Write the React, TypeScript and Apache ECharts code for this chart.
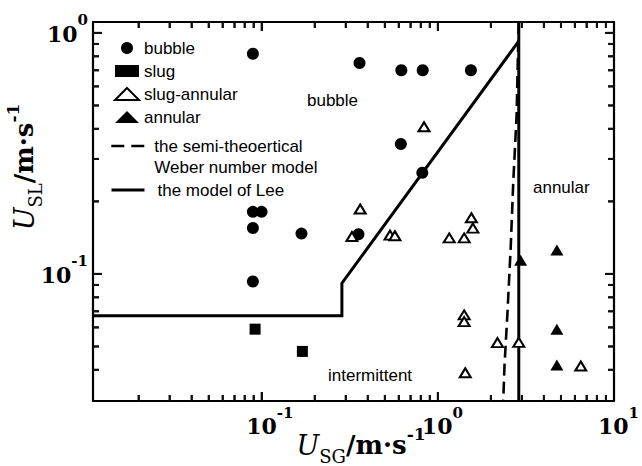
import React, { useEffect, useRef } from "react";
import * as echarts from "echarts";

// Observed flow patterns: [U_SG (m/s), U_SL (m/s)]
const bubblePoints: number[][] = [
  [0.089, 0.82],
  [0.359, 0.75],
  [0.62, 0.7],
  [0.82, 0.7],
  [1.54, 0.7],
  [0.616, 0.346],
  [0.816, 0.263],
  [0.089, 0.181],
  [0.0997, 0.181],
  [0.089, 0.155],
  [0.168, 0.147],
  [0.354, 0.146],
  [0.089, 0.093],
];

const slugPoints: number[][] = [
  [0.0916, 0.059],
  [0.17, 0.0477],
];

const slugAnnularPoints: number[][] = [
  [0.834, 0.408],
  [0.362, 0.186],
  [0.325, 0.143],
  [0.535, 0.145],
  [0.57, 0.144],
  [1.16, 0.141],
  [1.41, 0.141],
  [1.55, 0.171],
  [1.58, 0.155],
  [1.41, 0.0676],
  [1.41, 0.0634],
  [2.18, 0.0519],
  [2.88, 0.052],
  [6.48, 0.0415],
  [1.43, 0.0389],
];

const annularPoints: number[][] = [
  [4.74, 0.1258],
  [2.95, 0.114],
  [4.74, 0.059],
  [4.74, 0.0419],
];

// Transition boundaries
const weberModelLine: number[][] = [
  [2.88, 1.11],
  [2.86, 0.93],
  [2.8, 0.457],
  [2.68, 0.241],
  [2.59, 0.128],
  [2.48, 0.0676],
  [2.39, 0.0418],
  [2.35, 0.0297],
];

const leeModelLine: number[][] = [
  [0.011, 0.067],
  [0.285, 0.067],
  [0.285, 0.0915],
  [2.88, 0.925],
  [2.88, 1.11],
  [2.88, 0.0297],
];

// Axes
const xRange = [0.011, 10];
const yRange = [0.0297, 1.11];
const xMajorTicks = [0.1, 1];
const xMinorTicks = [
  0.02, 0.03, 0.04, 0.05, 0.06, 0.07, 0.08, 0.09,
  0.2, 0.3, 0.4, 0.5, 0.6, 0.7, 0.8, 0.9,
  2, 3, 4, 5, 6, 7, 8, 9,
];
const yMajorTicks = [0.1, 1];
const yMinorTicks = [
  0.04, 0.05, 0.06, 0.07, 0.08, 0.09,
  0.2, 0.3, 0.4, 0.5, 0.6, 0.7, 0.8, 0.9,
];

// Names / texts
const seriesNames = {
  bubble: "bubble",
  slug: "slug",
  slugAnnular: "slug-annular",
  annular: "annular",
  weber: "the semi-theoertical\nWeber number model",
  lee: "the model of Lee",
};
const regionLabels = ["bubble", "annular", "intermittent"];

const SANS = '"Liberation Sans", Arial, Helvetica, sans-serif';
const SERIF = '"DejaVu Serif", serif';

const tickLabelRich = {
  b: { fontFamily: SERIF, fontWeight: "bold", fontSize: 22, lineHeight: 32, verticalAlign: "bottom", color: "#000" },
  s: { fontFamily: SERIF, fontWeight: "bold", fontSize: 15, lineHeight: 12, verticalAlign: "top", color: "#000" },
  pn: { width: 16 },
  pp: { width: 9 },
};

const titleRich = {
  u: { fontFamily: SERIF, fontStyle: "italic", fontSize: 27, lineHeight: 40, verticalAlign: "middle", fill: "#000" },
  sub: { fontFamily: SERIF, fontSize: 18, lineHeight: 18, verticalAlign: "bottom", fill: "#000" },
  m: { fontFamily: SERIF, fontWeight: "bold", fontSize: 26, lineHeight: 40, verticalAlign: "middle", fill: "#000" },
  sup: { fontFamily: SERIF, fontWeight: "bold", fontSize: 17, lineHeight: 32, verticalAlign: "top", fill: "#000" },
};

function exponentOf(v: number) {
  return Math.round(Math.log10(v));
}

const TICK_W = 2;
const MINOR_LEN = 6;
const MAJOR_LEN = 9;

function buildTickItems() {
  const items: any[] = [];
  const addX = (v: number, len: number) => {
    items.push({ value: [v, yRange[0]], symbolSize: [TICK_W, len], symbolOffset: [0, -len / 2] });
    items.push({ value: [v, yRange[1]], symbolSize: [TICK_W, len], symbolOffset: [0, len / 2] });
  };
  const addY = (v: number, len: number) => {
    items.push({ value: [xRange[0], v], symbolSize: [len, TICK_W], symbolOffset: [len / 2, 0] });
    items.push({ value: [xRange[1], v], symbolSize: [len, TICK_W], symbolOffset: [-len / 2, 0] });
  };
  xMinorTicks.forEach((v) => addX(v, MINOR_LEN));
  xMajorTicks.forEach((v) => addX(v, MAJOR_LEN));
  yMinorTicks.forEach((v) => addY(v, MINOR_LEN));
  yMajorTicks.forEach((v) => addY(v, MAJOR_LEN));
  return items;
}

const frameLine = { show: true, onZero: false, lineStyle: { color: "#000", width: 2.2 } };
const innerTick = { show: true, inside: true, length: MAJOR_LEN, lineStyle: { color: "#000", width: TICK_W } };

export default function App() {
  const ref = useRef<HTMLDivElement>(null);

  useEffect(() => {
    if (!ref.current) return;
    const chart = echarts.init(ref.current, undefined, { renderer: "svg" });

    const legendText = { fontFamily: SANS, fontSize: 17, color: "#000" };

    const option: any = {
      animation: false,
      backgroundColor: "#fff",
      grid: { left: 93, right: 24, top: 22, bottom: 65 },
      xAxis: [
        {
          type: "log",
          position: "bottom",
          min: xRange[0],
          max: xRange[1],
          axisLine: frameLine,
          axisTick: innerTick,
          splitLine: { show: false },
          axisLabel: {
            show: true,
            interval: 0,
            margin: 4,
            showMinLabel: false,
            showMaxLabel: true,
            formatter: (v: number) => {
              const e = exponentOf(v);
              return `{${e < 0 ? "pn" : "pp"}|}{b|10}{s|${e}}`;
            },
            rich: tickLabelRich,
          },
        },
        {
          type: "log",
          position: "top",
          min: xRange[0],
          max: xRange[1],
          axisLine: frameLine,
          axisTick: innerTick,
          splitLine: { show: false },
          axisLabel: { show: false },
        },
      ],
      yAxis: [
        {
          type: "log",
          position: "left",
          min: yRange[0],
          max: yRange[1],
          axisLine: frameLine,
          axisTick: innerTick,
          splitLine: { show: false },
          axisLabel: {
            show: true,
            interval: 0,
            margin: 5,
            padding: [0, 0, 8, 0],
            showMinLabel: false,
            showMaxLabel: false,
            formatter: (v: number) => `{b|10}{s|${exponentOf(v)}}`,
            rich: tickLabelRich,
          },
        },
        {
          type: "log",
          position: "right",
          min: yRange[0],
          max: yRange[1],
          axisLine: frameLine,
          axisTick: innerTick,
          splitLine: { show: false },
          axisLabel: { show: false },
        },
      ],
      legend: [
        {
          orient: "vertical",
          left: 114,
          top: 36.5,
          padding: 0,
          itemGap: 0,
          itemWidth: 24,
          itemHeight: 12,
          selectedMode: false,
          textStyle: { ...legendText, lineHeight: 23 },
          data: [
            { name: seriesNames.bubble, icon: "circle", itemStyle: { color: "#000", borderWidth: 0 } },
            { name: seriesNames.slug, icon: "rect", itemStyle: { color: "#000", borderWidth: 0 } },
            { name: seriesNames.slugAnnular, icon: "triangle", itemStyle: { color: "#fff", borderColor: "#000", borderWidth: 2 } },
            { name: seriesNames.annular, icon: "triangle", itemStyle: { color: "#000", borderWidth: 0 } },
          ],
        },
        {
          orient: "vertical",
          left: 110,
          top: 114.5,
          padding: 0,
          itemWidth: 33,
          itemHeight: 12,
          selectedMode: false,
          formatter: (name: string) => "\n" + name,
          textStyle: { ...legendText, lineHeight: 21 },
          data: [
            {
              name: seriesNames.weber,
              itemStyle: { opacity: 0, color: "transparent", borderWidth: 0 },
              lineStyle: { color: "#000", width: 2.6, type: [13, 7], opacity: 1 },
              textStyle: { padding: [0, 0, 0, 5] },
            },
          ],
        },
        {
          orient: "vertical",
          left: 110,
          top: 179.5,
          padding: 0,
          itemWidth: 33,
          itemHeight: 12,
          selectedMode: false,
          textStyle: { ...legendText, lineHeight: 21 },
          data: [
            {
              name: seriesNames.lee,
              itemStyle: { opacity: 0, color: "transparent", borderWidth: 0 },
              lineStyle: { color: "#000", width: 3, type: "solid", opacity: 1 },
              textStyle: { padding: [0, 0, 0, 8] },
            },
          ],
        },
      ],
      series: [
        {
          type: "line",
          name: seriesNames.lee,
          data: leeModelLine,
          symbol: "none",
          z: 3,
          itemStyle: { color: "#000" },
          lineStyle: { color: "#000", width: 3, join: "miter" },
        },
        {
          type: "line",
          name: seriesNames.weber,
          data: weberModelLine,
          symbol: "none",
          z: 3,
          itemStyle: { color: "#000" },
          lineStyle: { color: "#000", width: 2.6, type: [12, 6] },
        },
        {
          type: "scatter",
          name: seriesNames.bubble,
          data: bubblePoints,
          symbol: "circle",
          symbolSize: 12,
          z: 5,
          itemStyle: { color: "#000", opacity: 1 },
        },
        {
          type: "scatter",
          name: seriesNames.slug,
          data: slugPoints,
          symbol: "rect",
          symbolSize: 11,
          z: 5,
          itemStyle: { color: "#000", opacity: 1 },
        },
        {
          type: "scatter",
          name: seriesNames.slugAnnular,
          data: slugAnnularPoints,
          symbol: "triangle",
          symbolSize: [11, 9],
          z: 6,
          itemStyle: { color: "#fff", borderColor: "#000", borderWidth: 2, opacity: 1 },
        },
        {
          type: "scatter",
          name: seriesNames.annular,
          data: annularPoints,
          symbol: "triangle",
          symbolSize: [13, 11],
          z: 6,
          itemStyle: { color: "#000", opacity: 1 },
        },
        {
          type: "scatter",
          name: "ticks",
          clip: false,
          symbol: "rect",
          itemStyle: { color: "#111111", opacity: 1 },
          data: buildTickItems(),
        },
      ],
    };

    chart.setOption(option);

    const toX = (v: number) => chart.convertToPixel({ xAxisIndex: 0 }, v) as unknown as number;
    const toY = (v: number) => chart.convertToPixel({ yAxisIndex: 0 }, v) as unknown as number;
    const left = toX(xRange[0]);
    const right = toX(xRange[1]);
    const top = toY(yRange[1]);
    const bottom = toY(yRange[0]);
    const tickRects: any[] = [];
    const mk = (x: number, y: number, width: number, height: number) => ({
      type: "rect",
      shape: { x, y, width, height },
      style: { fill: "#111111" },
    });
    const addX = (v: number, len: number) => {
      const x = toX(v) - TICK_W / 2;
      tickRects.push(mk(x, bottom - len, TICK_W, len));
      tickRects.push(mk(x, top, TICK_W, len));
    };
    const addY = (v: number, len: number) => {
      const y = toY(v) - TICK_W / 2;
      tickRects.push(mk(left, y, len, TICK_W));
      tickRects.push(mk(right - len, y, len, TICK_W));
    };
    xMinorTicks.forEach((v) => addX(v, MINOR_LEN));
    xMajorTicks.forEach((v) => addX(v, MAJOR_LEN));
    yMinorTicks.forEach((v) => addY(v, MINOR_LEN));
    yMajorTicks.forEach((v) => addY(v, MAJOR_LEN));

    const textGraphics: any[] = [
      {
        type: "text",
        x: 307,
        y: 100,
        style: { text: regionLabels[0], fontFamily: SANS, fontSize: 17, fill: "#000", align: "left", verticalAlign: "middle" },
      },
      {
        type: "text",
        x: 533,
        y: 187,
        style: { text: regionLabels[1], fontFamily: SANS, fontSize: 17, fill: "#000", align: "left", verticalAlign: "middle" },
      },
      {
        type: "text",
        x: 328,
        y: 375,
        style: { text: regionLabels[2], fontFamily: SANS, fontSize: 17, fill: "#000", align: "left", verticalAlign: "middle" },
      },
      {
        type: "text",
        x: 361,
        y: 445,
        style: {
          text: "{u|U}{sub|SG}{m|/m·s}{sup|-1}",
          align: "center",
          verticalAlign: "middle",
          rich: titleRich,
        },
      },
      {
        type: "text",
        x: 24,
        y: 167,
        rotation: Math.PI / 2,
        style: {
          text: "{u|U}{sub|SL}{m|/m·s}{sup|-1}",
          align: "center",
          verticalAlign: "middle",
          rich: titleRich,
        },
      },
    ];

    chart.setOption({ graphic: [...textGraphics, ...tickRects] });

    return () => {
      chart.dispose();
    };
  }, []);

  return (
    <div
      ref={ref}
      style={{ position: "absolute", left: 0, top: 0, width: 642, height: 466, background: "#fff" }}
    />
  );
}
